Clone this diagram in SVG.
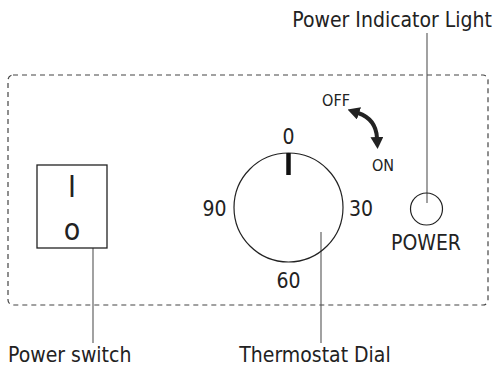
<svg xmlns="http://www.w3.org/2000/svg" width="496" height="366" viewBox="0 0 496 366">
<style>
text{font-family:"DejaVu Sans Condensed","DejaVu Sans",sans-serif;fill:#222;}
.lbl{font-size:21px;}
.num{font-size:21px;}
.sm{font-size:16px;}
.lead{stroke:#555;stroke-width:1.1;fill:none;}
.shape{stroke:#222;stroke-width:1.3;fill:#fff;}
</style>
<defs>
<marker id="ah" markerUnits="userSpaceOnUse" markerWidth="12" markerHeight="13" viewBox="0 0 12 13" refX="1" refY="6.5" orient="auto-start-reverse">
<path d="M0,0 L12,6.5 L0,13 z" fill="#222"/>
</marker>
</defs>
<rect id="panel" x="8" y="75" width="480" height="230" rx="5" fill="none" stroke="#444" stroke-width="1.2" stroke-dasharray="5,4"/>
<g id="connectors">
<line class="lead" x1="93" y1="232" x2="93" y2="343"/>
<line class="lead" x1="321" y1="232" x2="321" y2="343"/>
<line class="lead" x1="427" y1="33" x2="427" y2="203"/>
</g>
<g id="power-switch">
<rect class="shape" x="37" y="165" width="70" height="83"/>
<text x="72" y="197" font-size="30" text-anchor="middle">I</text>
<text x="72" y="240" font-size="30" text-anchor="middle">o</text>
</g>
<g id="thermostat-dial">
<circle cx="288.5" cy="207.5" r="54.5" fill="none" stroke="#222" stroke-width="1.2"/>
<line x1="288.5" y1="153" x2="288.5" y2="175" stroke="#111" stroke-width="4.5"/>
<text class="num" x="288.5" y="144" text-anchor="middle">0</text>
<text class="num" x="214.5" y="216" text-anchor="middle">90</text>
<text class="num" x="361" y="216" text-anchor="middle">30</text>
<text class="num" x="288.5" y="288" text-anchor="middle">60</text>
</g>
<g id="off-on">
<text class="sm" x="336" y="106" text-anchor="middle">OFF</text>
<text class="sm" x="383" y="171" text-anchor="middle">ON</text>
<path d="M 358,113 Q 376,119 377,138" fill="none" stroke="#222" stroke-width="4" marker-start="url(#ah)" marker-end="url(#ah)"/>
</g>
<g id="power-light">
<circle cx="426.5" cy="209" r="16" fill="none" stroke="#222" stroke-width="1.2"/>
<text class="lbl" x="426" y="250" text-anchor="middle" font-size="22">POWER</text>
</g>
<text class="lbl" x="8" y="362">Power switch</text>
<text class="lbl" x="315" y="362" text-anchor="middle">Thermostat Dial</text>
<text class="lbl" x="492" y="27" text-anchor="end">Power Indicator Light</text>
</svg>
